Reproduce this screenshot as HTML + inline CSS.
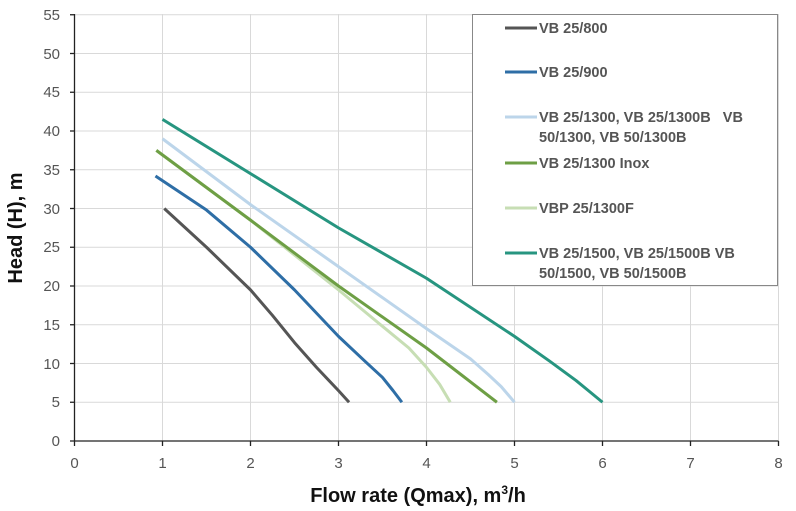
<!DOCTYPE html>
<html><head><style>body{margin:0;background:#fff}svg{display:block}</style></head><body>
<svg width="796" height="511" viewBox="0 0 796 511" xmlns="http://www.w3.org/2000/svg" font-family="Liberation Sans, sans-serif">
<g stroke="#d9d9d9" stroke-width="1">
<line x1="162.5" y1="14" x2="162.5" y2="441"/><line x1="250.5" y1="14" x2="250.5" y2="441"/><line x1="338.5" y1="14" x2="338.5" y2="441"/><line x1="426.5" y1="14" x2="426.5" y2="441"/><line x1="514.5" y1="14" x2="514.5" y2="441"/><line x1="602.5" y1="14" x2="602.5" y2="441"/><line x1="690.5" y1="14" x2="690.5" y2="441"/><line x1="778.5" y1="14" x2="778.5" y2="441"/>
<line x1="74.5" y1="402.25" x2="778" y2="402.25"/><line x1="74.5" y1="363.5" x2="778" y2="363.5"/><line x1="74.5" y1="324.75" x2="778" y2="324.75"/><line x1="74.5" y1="286" x2="778" y2="286"/><line x1="74.5" y1="247.25" x2="778" y2="247.25"/><line x1="74.5" y1="208.5" x2="778" y2="208.5"/><line x1="74.5" y1="169.75" x2="778" y2="169.75"/><line x1="74.5" y1="131" x2="778" y2="131"/><line x1="74.5" y1="92.25" x2="778" y2="92.25"/><line x1="74.5" y1="53.5" x2="778" y2="53.5"/><line x1="74.5" y1="14.75" x2="778" y2="14.75"/>
</g>
<g stroke="#222" stroke-width="1.3">
<line x1="74.5" y1="14" x2="74.5" y2="441"/><line x1="70" y1="441" x2="778.5" y2="441"/>
<line x1="70" y1="402.25" x2="74.5" y2="402.25"/><line x1="70" y1="363.5" x2="74.5" y2="363.5"/><line x1="70" y1="324.75" x2="74.5" y2="324.75"/><line x1="70" y1="286" x2="74.5" y2="286"/><line x1="70" y1="247.25" x2="74.5" y2="247.25"/><line x1="70" y1="208.5" x2="74.5" y2="208.5"/><line x1="70" y1="169.75" x2="74.5" y2="169.75"/><line x1="70" y1="131" x2="74.5" y2="131"/><line x1="70" y1="92.25" x2="74.5" y2="92.25"/><line x1="70" y1="53.5" x2="74.5" y2="53.5"/><line x1="70" y1="14.75" x2="74.5" y2="14.75"/>
<line x1="74.5" y1="441" x2="74.5" y2="446"/><line x1="162.5" y1="441" x2="162.5" y2="446"/><line x1="250.5" y1="441" x2="250.5" y2="446"/><line x1="338.5" y1="441" x2="338.5" y2="446"/><line x1="426.5" y1="441" x2="426.5" y2="446"/><line x1="514.5" y1="441" x2="514.5" y2="446"/><line x1="602.5" y1="441" x2="602.5" y2="446"/><line x1="690.5" y1="441" x2="690.5" y2="446"/><line x1="778.5" y1="441" x2="778.5" y2="446"/>
</g>
<g font-size="15" fill="#555" text-anchor="end">
<text x="60" y="446">0</text><text x="60" y="407">5</text><text x="60" y="369">10</text><text x="60" y="330">15</text><text x="60" y="291">20</text><text x="60" y="252">25</text><text x="60" y="214">30</text><text x="60" y="175">35</text><text x="60" y="136">40</text><text x="60" y="97">45</text><text x="60" y="59">50</text><text x="60" y="20">55</text>
</g>
<g font-size="15" fill="#555" text-anchor="middle">
<text x="74.5" y="468">0</text><text x="162.5" y="468">1</text><text x="250.5" y="468">2</text><text x="338.5" y="468">3</text><text x="426.5" y="468">4</text><text x="514.5" y="468">5</text><text x="602.5" y="468">6</text><text x="690.5" y="468">7</text><text x="778.5" y="468">8</text>
</g>
<text x="418" y="502" font-size="20" font-weight="bold" text-anchor="middle" fill="#111">Flow rate (Qmax), m<tspan font-size="12" dy="-8">3</tspan><tspan dy="8">/h</tspan></text>
<text transform="translate(22,228) rotate(-90)" font-size="20" font-weight="bold" text-anchor="middle" fill="#111">Head (H), m</text>
<g transform="translate(74.5,441) scale(88,-7.75)" fill="none" stroke-width="3" stroke-linejoin="round">
<polyline vector-effect="non-scaling-stroke" stroke="#c7deb4" points="0.93,37.5 2,28.5 3,19.5 3.5,14.8 3.8,12 4,9.5 4.15,7.3 4.27,5"/>
<polyline vector-effect="non-scaling-stroke" stroke="#bcd5ea" points="1,39 2,30.5 3,22.5 4,14.5 4.5,10.6 4.7,8.6 4.85,7 5,5"/>
<polyline vector-effect="non-scaling-stroke" stroke="#6e9f45" points="0.93,37.5 2,28.5 3,20 4,12 4.4,8.5 4.8,5"/>
<polyline vector-effect="non-scaling-stroke" stroke="#555" points="1.02,30 1.5,25 2,19.5 2.25,16.2 2.5,12.7 2.75,9.5 3,6.5 3.12,5"/>
<polyline vector-effect="non-scaling-stroke" stroke="#2e6ea6" points="0.92,34.2 1.5,29.8 2,25 2.5,19.5 3,13.5 3.3,10.3 3.5,8.2 3.62,6.5 3.72,5"/>
<polyline vector-effect="non-scaling-stroke" stroke="#279580" points="1,41.5 2,34.5 3,27.5 4,21 5,13.5 5.4,10.3 5.7,7.8 5.85,6.4 6,5"/>
</g>
<rect x="472.5" y="14.5" width="305" height="271" fill="#fff" stroke="#888"/>
<g stroke-width="3">
<line x1="505" y1="28" x2="537" y2="28" stroke="#555"/>
<line x1="505" y1="72" x2="537" y2="72" stroke="#2e6ea6"/>
<line x1="505" y1="117" x2="537" y2="117" stroke="#bcd5ea"/>
<line x1="505" y1="163" x2="537" y2="163" stroke="#6e9f45"/>
<line x1="505" y1="208" x2="537" y2="208" stroke="#c7deb4"/>
<line x1="505" y1="253" x2="537" y2="253" stroke="#279580"/>
</g>
<g font-size="14.5" font-weight="bold" fill="#555">
<text x="539" y="33">VB 25/800</text>
<text x="539" y="77">VB 25/900</text>
<text x="539" y="122" xml:space="preserve">VB 25/1300, VB 25/1300B   VB</text>
<text x="539" y="142">50/1300, VB 50/1300B</text>
<text x="539" y="168">VB 25/1300 Inox</text>
<text x="539" y="213">VBP 25/1300F</text>
<text x="539" y="258">VB 25/1500, VB 25/1500B VB</text>
<text x="539" y="278">50/1500, VB 50/1500B</text>
</g>
</svg>
</body></html>
